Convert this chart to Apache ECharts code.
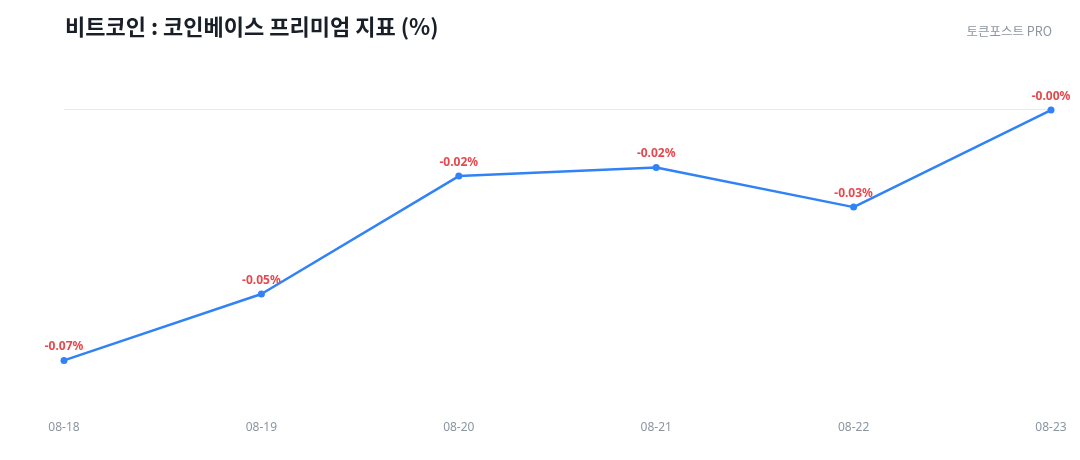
<!DOCTYPE html>
<html>
<head>
<meta charset="utf-8">
<script src="https://cdn.jsdelivr.net/npm/echarts@6/dist/echarts.min.js"></script>
<style>
	html, body { margin: 0; padding: 0; background: #fff; }
	#main { width: 1080px; height: 460px; }
</style>
</head>
<body>
<div id="main"></div>
<script>
// 날짜
let dates = ['08-18', '08-19', '08-20', '08-21', '08-22', '08-23'];
// 프리미엄 값 (%)
let premium = [-0.0697, -0.0513, -0.0186, -0.0162, -0.0272, -0.0003];
// y축 범위
let yMin = -0.084;
let yMax = 0;

let myChart = echarts.init(document.getElementById('main'));

let option = {
	backgroundColor: '#ffffff',
	animation: false,
	title: [{
		text: '비트코인 : 코인베이스 프리미엄 지표 (%)',
		left: 60,
		top: 11,
		textStyle: {
			fontFamily: 'Noto Sans CJK KR',
			fontSize: 22,
			fontWeight: 'bold',
			color: '#191f28'
		}
	}, {
		text: '토큰포스트 PRO',
		right: 23,
		top: 20,
		textStyle: {
			fontFamily: 'Noto Sans CJK KR',
			fontSize: 12.5,
			fontWeight: 'normal',
			color: '#8b95a1'
		}
	}],
	grid: {
		left: 64,
		right: 29,
		top: 109,
		bottom: 48
	},
	xAxis: {
		type: 'category',
		data: dates,
		boundaryGap: false,
		axisLine: { show: false },
		axisTick: { show: false },
		axisLabel: {
			margin: 10,
			fontFamily: 'Noto Sans',
			fontSize: 12,
			color: '#8b95a1'
		},
		splitLine: { show: false }
	},
	yAxis: {
		type: 'value',
		min: yMin,
		max: yMax,
		show: false,
		splitLine: { show: false }
	},
	series: [{
		type: 'line',
		data: premium,
		symbol: 'circle',
		symbolSize: 7,
		lineStyle: { color: '#3182f6', width: 2.5 },
		itemStyle: { color: '#3182f6' },
		label: {
			show: true,
			position: 'top',
			distance: 4,
			fontFamily: 'Noto Sans',
			fontSize: 12,
			fontWeight: 'bold',
			color: '#e5484d',
			formatter(p) {
				return p.value.toFixed(2) + '%';
			}
		},
		markLine: {
			silent: true,
			symbol: 'none',
			label: { show: false },
			lineStyle: { color: '#e8eaed', width: 1, type: 'solid' },
			data: [{ yAxis: 0 }],
			z: 1
		},
		z: 3
	}]
};
myChart.setOption(option);
</script>
</body>
</html>
